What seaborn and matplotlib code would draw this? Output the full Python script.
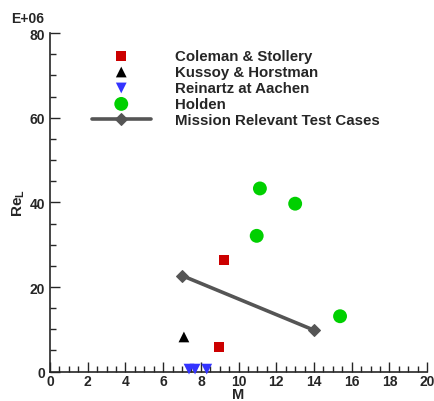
import matplotlib
matplotlib.use("Agg")
import matplotlib.pyplot as plt
from matplotlib.ticker import MultipleLocator
import seaborn as sns

# Dados (Re em unidades de 1E+06)
coleman_m = [9.24, 8.98]
coleman_re = [26.4, 5.9]
kussoy_m = [7.1]
kussoy_re = [8.2]
reinartz_m = [7.37, 7.69, 8.31]
reinartz_re = [0.6, 0.6, 0.6]
holden_m = [11.13, 13.0, 10.96, 15.38]
holden_re = [43.3, 39.7, 32.1, 13.1]
missao_m = [7.0, 14.0]
missao_re = [22.7, 9.8]

sns.set_style("ticks")
plt.rcParams["font.family"] = ["Liberation Sans", "DejaVu Sans"]
plt.rcParams["font.weight"] = "bold"
plt.rcParams["mathtext.fontset"] = "custom"
plt.rcParams["mathtext.rm"] = "Liberation Sans:bold"
plt.rcParams["mathtext.it"] = "Liberation Sans:bold"

fig = plt.figure(figsize=(4.35, 4.02), dpi=100)
ax = fig.add_axes([0.115, 0.073, 0.867, 0.842])

sns.scatterplot(x=coleman_m, y=coleman_re, ax=ax, marker="s", s=50, color="#cc0000",
                edgecolor="none", label="Coleman & Stollery", clip_on=False)
sns.scatterplot(x=kussoy_m, y=kussoy_re, ax=ax, marker="^", s=60, color="black",
                edgecolor="none", label="Kussoy & Horstman", clip_on=False)
sns.scatterplot(x=reinartz_m, y=reinartz_re, ax=ax, marker="v", s=60, color="#3333ff",
                edgecolor="none", label="Reinartz at Aachen", clip_on=False, zorder=5)
sns.scatterplot(x=holden_m, y=holden_re, ax=ax, marker="o", s=100, color="#00d000",
                edgecolor="none", label="Holden", clip_on=False)
sns.lineplot(x=missao_m, y=missao_re, ax=ax, color="#555555", linewidth=2.6,
             marker="D", markersize=6, markeredgecolor="#555555",
             label="Mission Relevant Test Cases")

ax.set_xlim(0, 20)
ax.set_ylim(0, 80)
ax.xaxis.set_major_locator(MultipleLocator(2))
ax.xaxis.set_minor_locator(MultipleLocator(0.5))
ax.yaxis.set_major_locator(MultipleLocator(20))
ax.yaxis.set_minor_locator(MultipleLocator(5))
ax.tick_params(which="both", direction="in", width=1, labelsize=10)
ax.tick_params(which="major", length=7)
ax.tick_params(which="minor", length=4)
ax.tick_params(axis="x", pad=2)
for lado in ["top", "right"]:
    ax.spines[lado].set_visible(False)
for lado in ["left", "bottom"]:
    ax.spines[lado].set_linewidth(1.2)

ax.set_xlabel("M", fontsize=10.5, fontweight="bold", labelpad=-0.8)
ax.set_ylabel(r"$\mathrm{Re_L}$", fontsize=11, fontweight="bold")
ax.yaxis.set_label_coords(-0.062, 0.5)
fig.text(0.025, 0.952, "E+06", fontsize=10, fontweight="bold", va="center")

ax.legend(loc="upper left", bbox_to_anchor=(92 / 435, 1 - 50 / 402),
          bbox_transform=fig.transFigure, frameon=False, fontsize=10.8,
          handlelength=3.9, handletextpad=1.65, labelspacing=0.13,
          borderpad=0, borderaxespad=0)

plt.savefig("out.png", dpi=100)
plt.close()
